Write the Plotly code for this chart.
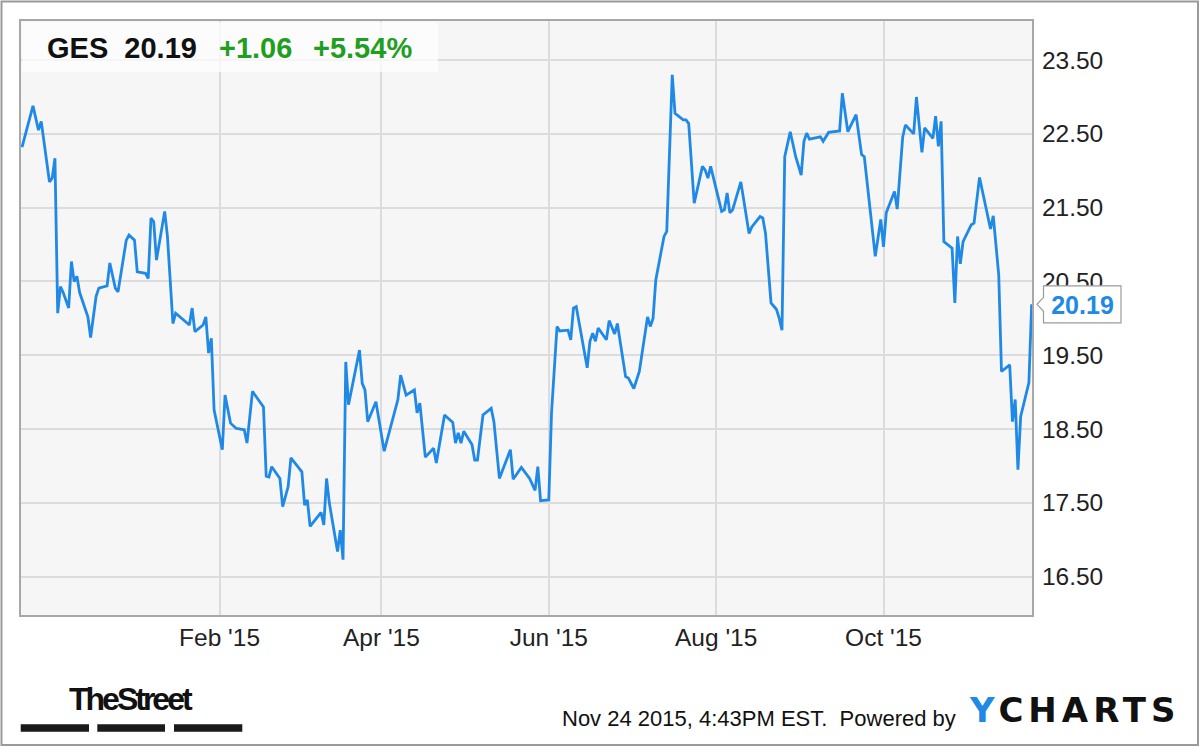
import plotly.graph_objects as go

# ---------------- data ----------------
dates = [
    "2014-11-21", "2014-11-25", "2014-11-27", "2014-11-28", "2014-12-01", "2014-12-02",
    "2014-12-03", "2014-12-04", "2014-12-05", "2014-12-06", "2014-12-08", "2014-12-09",
    "2014-12-10", "2014-12-11", "2014-12-12", "2014-12-15", "2014-12-16", "2014-12-18",
    "2014-12-19", "2014-12-22", "2014-12-23", "2014-12-25", "2014-12-26", "2014-12-29",
    "2014-12-30", "2015-01-01", "2015-01-02", "2015-01-05", "2015-01-06", "2015-01-07",
    "2015-01-08", "2015-01-09", "2015-01-12", "2015-01-13", "2015-01-15", "2015-01-16",
    "2015-01-21", "2015-01-22", "2015-01-23", "2015-01-26", "2015-01-27", "2015-01-28",
    "2015-01-29", "2015-01-30", "2015-02-02", "2015-02-03", "2015-02-05", "2015-02-07",
    "2015-02-10", "2015-02-11", "2015-02-13", "2015-02-17", "2015-02-18", "2015-02-19",
    "2015-02-20", "2015-02-23", "2015-02-24", "2015-02-26", "2015-02-27", "2015-03-03",
    "2015-03-04", "2015-03-05", "2015-03-06", "2015-03-10", "2015-03-11", "2015-03-12",
    "2015-03-13", "2015-03-16", "2015-03-17", "2015-03-18", "2015-03-19", "2015-03-20",
    "2015-03-24", "2015-03-25", "2015-03-26", "2015-03-27", "2015-03-30", "2015-04-02",
    "2015-04-07", "2015-04-08", "2015-04-10", "2015-04-13", "2015-04-14", "2015-04-15",
    "2015-04-17", "2015-04-20", "2015-04-21", "2015-04-24", "2015-04-27", "2015-04-28",
    "2015-04-29", "2015-04-30", "2015-05-01", "2015-05-04", "2015-05-05", "2015-05-06",
    "2015-05-08", "2015-05-11", "2015-05-12", "2015-05-14", "2015-05-18", "2015-05-19",
    "2015-05-22", "2015-05-25", "2015-05-27", "2015-05-28", "2015-05-29", "2015-06-01",
    "2015-06-02", "2015-06-04", "2015-06-05", "2015-06-08", "2015-06-09", "2015-06-10",
    "2015-06-11", "2015-06-15", "2015-06-16", "2015-06-17", "2015-06-18", "2015-06-19",
    "2015-06-22", "2015-06-23", "2015-06-25", "2015-06-26", "2015-06-29", "2015-06-30",
    "2015-07-02", "2015-07-04", "2015-07-07", "2015-07-08", "2015-07-09", "2015-07-10",
    "2015-07-13", "2015-07-14", "2015-07-16", "2015-07-17", "2015-07-20", "2015-07-21",
    "2015-07-22", "2015-07-24", "2015-07-27", "2015-07-28", "2015-07-29", "2015-07-30",
    "2015-08-03", "2015-08-04", "2015-08-05", "2015-08-06", "2015-08-07", "2015-08-10",
    "2015-08-13", "2015-08-14", "2015-08-17", "2015-08-18", "2015-08-19", "2015-08-21",
    "2015-08-23", "2015-08-24", "2015-08-25", "2015-08-26", "2015-08-28", "2015-08-30",
    "2015-09-01", "2015-09-02", "2015-09-03", "2015-09-04", "2015-09-08", "2015-09-09",
    "2015-09-11", "2015-09-15", "2015-09-16", "2015-09-18", "2015-09-21", "2015-09-23",
    "2015-09-24", "2015-09-28", "2015-09-30", "2015-10-01", "2015-10-02", "2015-10-05",
    "2015-10-06", "2015-10-08", "2015-10-09", "2015-10-12", "2015-10-13", "2015-10-15",
    "2015-10-16", "2015-10-19", "2015-10-20", "2015-10-21", "2015-10-22", "2015-10-23",
    "2015-10-26", "2015-10-27", "2015-10-28", "2015-10-29", "2015-10-30", "2015-11-02",
    "2015-11-03", "2015-11-05", "2015-11-09", "2015-11-10", "2015-11-12", "2015-11-13",
    "2015-11-16", "2015-11-17", "2015-11-18", "2015-11-19", "2015-11-20", "2015-11-23",
    "2015-11-24",
]
prices = [
    22.32, 22.88, 22.55, 22.67, 21.85, 21.90,
    22.17, 20.07, 20.43, 20.35, 20.14, 20.77,
    20.50, 20.57, 20.35, 20.02, 19.74, 20.30,
    20.41, 20.44, 20.75, 20.41, 20.36, 21.06,
    21.13, 21.06, 20.63, 20.61, 20.54, 21.36,
    21.31, 20.79, 21.45, 21.11, 19.93, 20.07,
    19.91, 20.14, 19.82, 19.91, 20.02, 19.53,
    19.73, 18.76, 18.22, 18.96, 18.58, 18.51,
    18.49, 18.31, 19.01, 18.80, 17.86, 17.85,
    17.99, 17.83, 17.45, 17.72, 18.11, 17.92,
    17.47, 17.54, 17.18, 17.37, 17.20, 17.83,
    17.50, 16.84, 17.13, 16.73, 19.41, 18.83,
    19.57, 19.12, 19.03, 18.60, 18.87, 18.20,
    18.90, 19.23, 18.96, 19.03, 18.72, 18.85,
    18.12, 18.24, 18.04, 18.69, 18.59, 18.31,
    18.45, 18.31, 18.47, 18.29, 18.08, 18.08,
    18.69, 18.78, 18.60, 17.83, 18.22, 17.82,
    17.98, 17.83, 17.67, 17.99, 17.53, 17.54,
    18.72, 19.89, 19.83, 19.84, 19.71, 20.14,
    20.16, 19.33, 19.69, 19.80, 19.69, 19.87,
    19.71, 19.97, 19.79, 19.93, 19.21, 19.19,
    19.05, 19.28, 20.02, 19.89, 20.00, 20.52,
    21.11, 21.18, 23.30, 22.78, 22.69, 22.69,
    22.64, 21.56, 22.06, 22.01, 21.90, 22.06,
    21.45, 21.47, 21.70, 21.43, 21.47, 21.85,
    21.15, 21.24, 21.38, 21.36, 21.15, 20.21,
    20.12, 20.00, 19.84, 22.19, 22.53, 22.19,
    21.94, 22.40, 22.51, 22.43, 22.46, 22.40,
    22.52, 22.54, 23.05, 22.53, 22.76, 22.22,
    22.19, 20.84, 21.34, 20.97, 21.43, 21.72,
    21.48, 22.46, 22.62, 22.50, 23.00, 22.25,
    22.58, 22.44, 22.74, 22.33, 22.67, 21.04,
    20.95, 20.21, 21.11, 20.74, 21.04, 21.27,
    21.29, 21.91, 21.21, 21.39, 20.59, 19.28,
    19.37, 18.60, 18.90, 17.95, 18.67, 19.13,
    20.19,
]

x_tick_dates = ["2015-02-01", "2015-04-01", "2015-06-01", "2015-08-01", "2015-10-01"]
x_tick_labels = ["Feb '15", "Apr '15", "Jun '15", "Aug '15", "Oct '15"]
y_tick_values = [16.5, 17.5, 18.5, 19.5, 20.5, 21.5, 22.5, 23.5]
y_tick_labels = ["16.50", "17.50", "18.50", "19.50", "20.50", "21.50", "22.50", "23.50"]

ticker = "GES"
last_price = "20.19"
change = "+1.06"
change_pct = "+5.54%"
timestamp_text = "Nov 24 2015, 4:43PM EST.  Powered by"

# ---------------- styling ----------------
W, H = 1200, 747
L, R, T, B = 21, 168, 21, 132
PW, PH = W - L - R, H - T - B
BLUE = "#2089e6"
GREEN = "#1f9e1f"
FONT = "Liberation Sans, Arial, sans-serif"


def px_x(px):
    return (px - L) / PW


def px_y(py):
    return (H - B - py) / PH


fig = go.Figure(
    go.Scatter(
        x=dates, y=prices, mode="lines",
        line=dict(color=BLUE, width=2.8),
        hoverinfo="skip",
    )
)

fig.update_layout(
    width=W, height=H,
    margin=dict(l=L, r=R, t=T, b=B, autoexpand=False),
    paper_bgcolor="white",
    plot_bgcolor="#f6f6f6",
    showlegend=False,
)

fig.update_xaxes(
    type="date",
    range=["2014-11-20 15:00", "2015-11-24 03:00"],
    tickmode="array", tickvals=x_tick_dates, ticktext=x_tick_labels,
    showgrid=True, gridcolor="#dcdcdc", gridwidth=2,
    showline=True, linecolor="#a8a8a8", linewidth=2, mirror=True,
    ticks="", ticklabelstandoff=0,
    tickfont=dict(family=FONT, size=24.5, color="#222"),
    zeroline=False,
)
fig.update_yaxes(
    side="right",
    range=[15.98, 24.03],
    tickmode="array", tickvals=y_tick_values, ticktext=y_tick_labels,
    showgrid=True, gridcolor="#dcdcdc", gridwidth=2,
    showline=True, linecolor="#a8a8a8", linewidth=2, mirror=True,
    ticks="", ticklabelstandoff=3,
    tickfont=dict(family=FONT, size=24.5, color="#222"),
    zeroline=False,
)

shapes = []
# header box (translucent)
shapes.append(dict(type="rect", xref="paper", yref="paper",
                   x0=px_x(22), x1=px_x(438), y0=px_y(72), y1=px_y(22),
                   fillcolor="rgba(255,255,255,0.7)", line=dict(width=0), layer="above"))
# last value callout outline with notch
shapes.append(dict(type="path", xref="paper", yref="y",
                   xsizemode="pixel", ysizemode="pixel",
                   xanchor=1.0, yanchor=float(last_price),
                   path="M 11.5,18.5 L 89,18.5 L 89,-18.5 L 11.5,-18.5 L 11.5,-7 L 5,0 L 11.5,7 Z",
                   fillcolor="white", line=dict(color="#9a9a9a", width=1.2), layer="above"))
# TheStreet bars
for a, b in [(20.7, 89), (97.3, 165), (174, 242.3)]:
    shapes.append(dict(type="rect", xref="paper", yref="paper",
                       x0=px_x(a), x1=px_x(b), y0=px_y(731.7), y1=px_y(724.3),
                       fillcolor="#1a1a1a", line=dict(width=0)))
# outer border
shapes.append(dict(type="rect", xref="paper", yref="paper",
                   x0=px_x(1.5), x1=px_x(1198), y0=px_y(745), y1=px_y(1.5),
                   line=dict(color="#9a9a9a", width=2), fillcolor="rgba(0,0,0,0)"))
fig.update_layout(shapes=shapes)

annotations = [
    dict(text=f"<b>{ticker}\u00a0\u00a0{last_price}</b>", xref="paper", yref="paper",
         x=px_x(45), y=px_y(48), xanchor="left", yanchor="middle", showarrow=False,
         font=dict(family=FONT, size=29, color="#111")),
    dict(text=f"<b>{change}</b>", xref="paper", yref="paper",
         x=px_x(217), y=px_y(48), xanchor="left", yanchor="middle", showarrow=False,
         font=dict(family=FONT, size=29, color=GREEN)),
    dict(text=f"<b>{change_pct}</b>", xref="paper", yref="paper",
         x=px_x(311), y=px_y(48), xanchor="left", yanchor="middle", showarrow=False,
         font=dict(family=FONT, size=29, color=GREEN)),
    # callout value: white box (covers the tick label behind it) inside the outline
    dict(text=f"<b>{last_price}</b>", xref="paper", yref="y",
         x=px_x(1082.5), y=float(last_price), xanchor="center", yanchor="middle",
         width=75, height=35, bgcolor="white", borderpad=0, borderwidth=0,
         showarrow=False, font=dict(family=FONT, size=25, color=BLUE)),
    dict(text="<span style='letter-spacing:-3px'><b>TheStreet</b></span>", xref="paper", yref="paper",
         x=px_x(131), y=px_y(699), xanchor="center", yanchor="middle", showarrow=False,
         font=dict(family=FONT, size=32, color="#111")),
    dict(text=timestamp_text, xref="paper", yref="paper",
         x=px_x(958), y=px_y(718), xanchor="right", yanchor="middle", showarrow=False,
         font=dict(family=FONT, size=22, color="#111")),
    dict(text=f"<span style='letter-spacing:5px'><span style='color:{BLUE}'>Y</span>CHARTS</span>",
         xref="paper", yref="paper",
         x=px_x(967), y=px_y(710), xanchor="left", yanchor="middle", showarrow=False,
         font=dict(family="DejaVu Sans, sans-serif", size=34, color="#111", weight="bold")),
]
fig.update_layout(annotations=annotations)

fig.write_html(
    "out.html",
    config={"displayModeBar": False, "staticPlot": True},
    post_script="document.body.style.margin='0';document.body.style.padding='0';",
)
